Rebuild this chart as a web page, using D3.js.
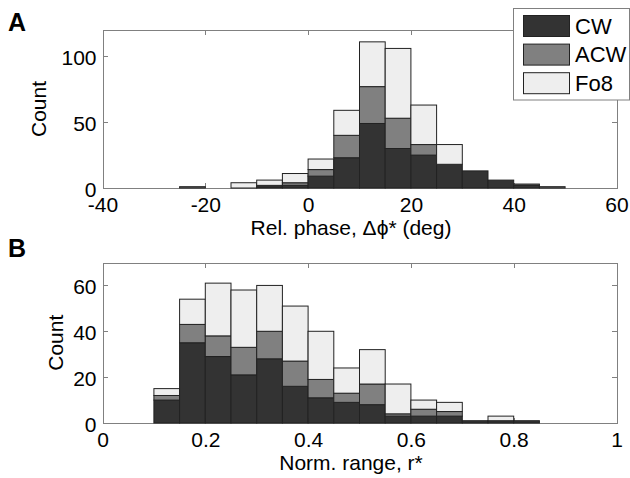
<!DOCTYPE html>
<html>
<head>
<meta charset="utf-8">
<script src="https://cdn.jsdelivr.net/npm/d3@7"></script>
<style>
  body { margin: 0; background: #fff; }
  svg { font-family: "Liberation Sans", Arial, sans-serif; }
</style>
</head>
<body>
<div id="chart"></div>
<script>
// series names
var seriesNames = ["CW", "ACW", "Fo8"];

// panel A: relative phase histogram (bin left edges, width 5 deg)
var binsA = [-25, -20, -15, -10, -5, 0, 5, 10, 15, 20, 25, 30, 35, 40, 45, 50];
var cwA   = [0, 0, 0, 1, 2, 9, 23, 49, 30, 25, 18, 13, 6, 2, 0, 0];
var acwA  = [1, 0, 0, 1, 2, 5, 17, 28, 23, 8, 0, 0, 0, 1, 1, 0];
var fo8A  = [0, 0, 4, 4, 7, 8, 19, 34, 53, 30, 15, 0, 0, 0, 0, 0];
var xTicksA = [-40, -20, 0, 20, 40, 60];
var yTicksA = [0, 50, 100];

// panel B: normalized range histogram (bin left edges, width 0.05)
var binsB = [0.1, 0.15, 0.2, 0.25, 0.3, 0.35, 0.4, 0.45, 0.5, 0.55, 0.6, 0.65, 0.7, 0.75, 0.8];
var cwB   = [10, 35, 29, 21, 28, 16, 11, 9, 8, 3, 3, 3, 1, 1, 1];
var acwB  = [2, 8, 9, 12, 12, 11, 8, 4, 9, 1, 3, 2, 0, 0, 0];
var fo8B  = [3, 11, 23, 25, 20, 24, 21, 11, 15, 13, 4, 4, 0, 2, 0];
var xTicksB = [0, 0.2, 0.4, 0.6, 0.8, 1];
var yTicksB = [0, 20, 40, 60];

var fills = ["#333333", "#808080", "#eeeeee"];
var axisColor = "#808080";
var fontSize = 21;

var svg = d3.select("#chart").append("svg")
    .attr("width", 630)
    .attr("height", 478);

function drawPanel(p) {
    var x = d3.scaleLinear().domain(p.xDomain).range([102.5, 616.5]);
    var y = d3.scaleLinear().domain(p.yDomain).range([p.bottom, p.top]);

    var g = svg.append("g");

    // box + inward ticks
    var xAxis = d3.axisBottom(x).tickValues(p.xTicks)
        .tickFormat(function (d) { return String(d); })
        .tickSizeInner(-5).tickSizeOuter(0).tickPadding(9.5);
    var yAxis = d3.axisLeft(y).tickValues(p.yTicks)
        .tickSizeInner(-5).tickSizeOuter(0).tickPadding(6);

    var gx = g.append("g").attr("transform", "translate(0," + p.bottom + ")").call(xAxis);
    var gy = g.append("g").attr("transform", "translate(102.5,0)").call(yAxis);
    g.append("g").attr("transform", "translate(0," + p.top + ")")
        .call(d3.axisTop(x).tickValues(p.xTicks).tickSizeInner(-5).tickSizeOuter(0).tickFormat(""));
    g.append("g").attr("transform", "translate(616.5,0)")
        .call(d3.axisRight(y).tickValues(p.yTicks).tickSizeInner(-5).tickSizeOuter(0).tickFormat(""));

    g.selectAll(".domain, .tick line")
        .attr("stroke", axisColor)
        .attr("shape-rendering", "crispEdges");
    g.selectAll(".tick text")
        .attr("fill", "#000")
        .style("font-size", fontSize + "px")
        .style("font-family", "'Liberation Sans', Arial, sans-serif");
    gy.selectAll(".tick text").attr("dy", "0.4em");

    // stacked bars
    var stackData = p.bins.map(function (b, i) {
        return { x0: b, vals: [p.cw[i], p.acw[i], p.fo8[i]] };
    });
    var rects = [];
    stackData.forEach(function (d) {
        var base = 0;
        d.vals.forEach(function (v, k) {
            rects.push({ x0: d.x0, y0: base, y1: base + v, k: k });
            base += v;
        });
    });

    g.selectAll("rect.bar")
        .data(rects)
        .enter()
        .append("rect")
        .attr("class", "bar")
        .attr("x", function (d) { return x(d.x0); })
        .attr("width", function (d) { return x(d.x0 + p.binWidth) - x(d.x0); })
        .attr("y", function (d) { return y(d.y1); })
        .attr("height", function (d) { return y(d.y0) - y(d.y1); })
        .style("fill", function (d) { return fills[d.k]; })
        .style("stroke", "#222")
        .style("stroke-width", 1);

    // labels
    g.append("text")
        .attr("x", 351)
        .attr("y", p.bottom + 47)
        .attr("text-anchor", "middle")
        .style("font-size", fontSize + "px")
        .text(p.xLabel);

    g.append("text")
        .attr("transform", "translate(" + p.yLabelX + "," + ((p.top + p.bottom) / 2) + ") rotate(-90)")
        .attr("text-anchor", "middle")
        .style("font-size", fontSize + "px")
        .text("Count");

    g.append("text")
        .attr("x", 8)
        .attr("y", p.letterY)
        .style("font-size", "25px")
        .style("font-weight", "bold")
        .text(p.letter);
}

drawPanel({
    bins: binsA, cw: cwA, acw: acwA, fo8: fo8A, binWidth: 5,
    xDomain: [-40, 60], yDomain: [0, 120],
    xTicks: xTicksA, yTicks: yTicksA,
    top: 30, bottom: 188,
    xLabel: "Rel. phase, \u0394\u03d5* (deg)",
    yLabelX: 45.5, letter: "A", letterY: 31
});

drawPanel({
    bins: binsB, cw: cwB, acw: acwB, fo8: fo8B, binWidth: 0.05,
    xDomain: [0, 1], yDomain: [0, 70],
    xTicks: xTicksB, yTicks: yTicksB,
    top: 262.5, bottom: 423,
    xLabel: "Norm. range, r*",
    yLabelX: 62.5, letter: "B", letterY: 257
});

// legend (top-right, over panel A)
var legend = svg.append("g");
legend.append("rect")
    .attr("x", 513.5).attr("y", 8.5)
    .attr("width", 116).attr("height", 91.5)
    .style("fill", "#fff")
    .style("stroke", axisColor);

legend.selectAll("rect.swatch")
    .data(seriesNames)
    .enter()
    .append("rect")
    .attr("class", "swatch")
    .attr("x", 523.5)
    .attr("y", function (d, i) { return 15.5 + i * 28.6; })
    .attr("width", 46)
    .attr("height", 21)
    .style("fill", function (d, i) { return fills[i]; })
    .style("stroke", "#222");

legend.selectAll("text")
    .data(seriesNames)
    .enter()
    .append("text")
    .attr("x", 575)
    .attr("y", function (d, i) { return 33.5 + i * 28.6; })
    .style("font-size", "22px")
    .text(function (d) { return d; });
</script>
</body>
</html>
